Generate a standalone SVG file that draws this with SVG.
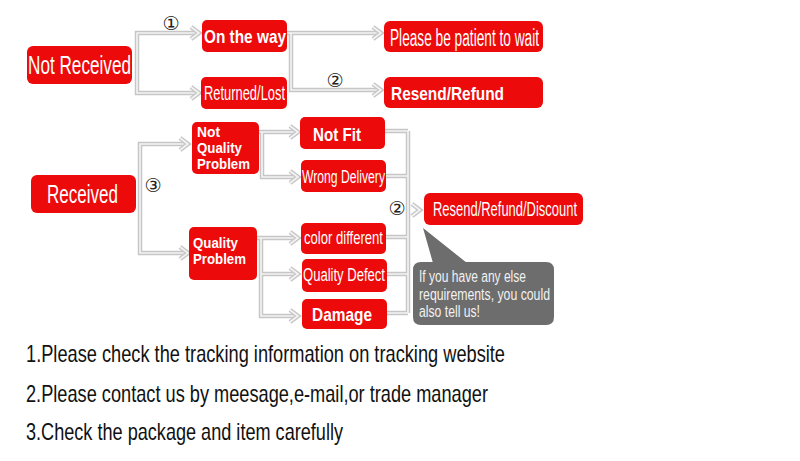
<svg xmlns="http://www.w3.org/2000/svg" xmlns:xlink="http://www.w3.org/1999/xlink" width="800" height="461" viewBox="0 0 800 461">
<style>
.box{fill:#ec0a0a}
.bt{fill:#fff;font-family:"Liberation Sans",Arial,sans-serif}
.b{font-weight:bold}
.co{fill:none;stroke:#c6c6c6;stroke-width:4.5;stroke-linejoin:miter}
.ci{fill:none;stroke:#f4f4f4;stroke-width:1.6;stroke-linejoin:miter}
.num{font-family:"DejaVu Sans","Noto Sans CJK SC",sans-serif;font-size:19px;fill:#222;text-anchor:middle}
.note{font-family:"Liberation Sans",Arial,sans-serif;font-size:24px;fill:#111}
.bub{fill:#f2f2f2;font-family:"Liberation Sans",Arial,sans-serif;font-size:16px}
</style>
<defs>
<g id="chev">
<path d="M-8,-6 L0,0 L-8,6" class="co"/>
<path d="M-8,-6 L0,0 L-8,6" class="ci"/>
</g>
</defs>
<rect width="800" height="461" fill="#fff"/>

<g id="connectors">
<g id="c1">
<path class="co" d="M196,33 H137 V93 H196"/>
<path class="ci" d="M196,33 H137 V93 H196"/>
<use xlink:href="#chev" x="199" y="33"/>
<use xlink:href="#chev" x="199" y="93"/>
</g>
<g id="c2">
<path class="co" d="M287,33 H378 M291,33 V90 H378"/>
<path class="ci" d="M287,33 H378 M291,33 V90 H378"/>
<use xlink:href="#chev" x="381" y="33"/>
<use xlink:href="#chev" x="381" y="90"/>
</g>
<g id="c3">
<path class="co" d="M185,144 H140 V253 H185"/>
<path class="ci" d="M185,144 H140 V253 H185"/>
<use xlink:href="#chev" x="188" y="144"/>
<use xlink:href="#chev" x="188" y="253"/>
</g>
<g id="c4">
<path class="co" d="M259,132 H295 M262,132 V177 H295"/>
<path class="ci" d="M259,132 H295 M262,132 V177 H295"/>
<use xlink:href="#chev" x="298" y="132"/>
<use xlink:href="#chev" x="298" y="177"/>
</g>
<g id="c5">
<path class="co" d="M257,238 H295 M261,238 V316 H295 M261,274 H295"/>
<path class="ci" d="M257,238 H295 M261,238 V316 H295 M261,274 H295"/>
<use xlink:href="#chev" x="298" y="238"/>
<use xlink:href="#chev" x="298" y="274"/>
<use xlink:href="#chev" x="298" y="316"/>
</g>
<g id="c6">
<path class="co" d="M385,131 H408 M386,176 H408 M386,237 H408 M387,274 H408 M387,313 H408 M408,131 V313"/>
<path class="ci" d="M385,131 H408 M386,176 H408 M386,237 H408 M387,274 H408 M387,313 H408 M408,131 V313"/>
<use xlink:href="#chev" x="420" y="210"/>
</g>
<text class="num" x="171" y="30">①</text>
<text class="num" x="335" y="87">②</text>
<text class="num" x="153" y="192">③</text>
<text class="num" x="397" y="215">②</text>
</g>

<g id="n-not-received">
<rect class="box" x="27" y="46" width="105" height="38" rx="6"/>
<text class="bt" x="28" y="74" font-size="25" textLength="103" lengthAdjust="spacingAndGlyphs">Not Received</text>
</g>
<g id="n-on-the-way">
<rect class="box" x="202" y="20" width="85" height="32" rx="5"/>
<text class="bt b" x="204" y="43" font-size="19" textLength="82" lengthAdjust="spacingAndGlyphs">On the way</text>
</g>
<g id="n-returned-lost">
<rect class="box" x="201" y="77" width="86" height="32" rx="5"/>
<text class="bt" x="204" y="100" font-size="21" textLength="81" lengthAdjust="spacingAndGlyphs">Returned/Lost</text>
</g>
<g id="n-patient">
<rect class="box" x="384" y="21" width="159" height="31" rx="6"/>
<text class="bt" x="390" y="46" font-size="23" textLength="149" lengthAdjust="spacingAndGlyphs">Please be patient to wait</text>
</g>
<g id="n-resend-refund">
<rect class="box" x="384" y="77" width="159" height="31" rx="6"/>
<text class="bt b" x="391" y="100" font-size="18" textLength="113" lengthAdjust="spacingAndGlyphs">Resend/Refund</text>
</g>
<g id="n-received">
<rect class="box" x="31" y="175" width="105" height="38" rx="6"/>
<text class="bt" x="47" y="203" font-size="25" textLength="71" lengthAdjust="spacingAndGlyphs">Received</text>
</g>
<g id="n-not-quality">
<rect class="box" x="192" y="122" width="67" height="52" rx="5"/>
<text class="bt b" x="197" y="137" font-size="15" textLength="23" lengthAdjust="spacingAndGlyphs">Not</text>
<text class="bt b" x="197" y="153" font-size="15" textLength="45" lengthAdjust="spacingAndGlyphs">Quality</text>
<text class="bt b" x="197" y="169" font-size="15" textLength="53" lengthAdjust="spacingAndGlyphs">Problem</text>
</g>
<g id="n-quality">
<rect class="box" x="189" y="227" width="68" height="53" rx="5"/>
<text class="bt b" x="193" y="248" font-size="15" textLength="45" lengthAdjust="spacingAndGlyphs">Quality</text>
<text class="bt b" x="193" y="264" font-size="15" textLength="53" lengthAdjust="spacingAndGlyphs">Problem</text>
</g>
<g id="n-not-fit">
<rect class="box" x="300" y="117" width="85" height="32" rx="5"/>
<text class="bt b" x="313" y="141" font-size="18" textLength="48" lengthAdjust="spacingAndGlyphs">Not Fit</text>
</g>
<g id="n-wrong-delivery">
<rect class="box" x="301" y="160" width="85" height="32" rx="5"/>
<text class="bt" x="302" y="183" font-size="18" textLength="83" lengthAdjust="spacingAndGlyphs">Wrong Delivery</text>
</g>
<g id="n-color-different">
<rect class="box" x="301" y="223" width="85" height="31" rx="5"/>
<text class="bt" x="304" y="244" font-size="19" textLength="79" lengthAdjust="spacingAndGlyphs">color different</text>
</g>
<g id="n-quality-defect">
<rect class="box" x="302" y="259" width="85" height="33" rx="5"/>
<text class="bt" x="303" y="281" font-size="18" textLength="82" lengthAdjust="spacingAndGlyphs">Quality Defect</text>
</g>
<g id="n-damage">
<rect class="box" x="302" y="299" width="85" height="30" rx="5"/>
<text class="bt b" x="312" y="321" font-size="19" textLength="60" lengthAdjust="spacingAndGlyphs">Damage</text>
</g>
<g id="n-resend-refund-discount">
<rect class="box" x="424" y="193" width="159" height="32" rx="6"/>
<text class="bt" x="433" y="216" font-size="20" textLength="144" lengthAdjust="spacingAndGlyphs">Resend/Refund/Discount</text>
</g>
<g id="n-callout">
<path fill="#6d6d6d" d="M421,262 H546 Q554,262 554,270 V317 Q554,325 546,325 H421 Q413,325 413,317 V270 Q413,262 421,262 Z M433,263 L423,228 L467,263 Z"/>
<text class="bub" x="419" y="282" textLength="107" lengthAdjust="spacingAndGlyphs">If you have any else</text>
<text class="bub" x="419" y="300" textLength="131" lengthAdjust="spacingAndGlyphs">requirements, you could</text>
<text class="bub" x="419" y="317" textLength="61" lengthAdjust="spacingAndGlyphs">also tell us!</text>
</g>

<g id="notes">
<text class="note" x="26" y="362" textLength="479" lengthAdjust="spacingAndGlyphs">1.Please check the tracking information on tracking website</text>
<text class="note" x="26" y="402" textLength="462" lengthAdjust="spacingAndGlyphs">2.Please contact us by meesage,e-mail,or trade manager</text>
<text class="note" x="26" y="440" textLength="317" lengthAdjust="spacingAndGlyphs">3.Check the package and item carefully</text>
</g>
</svg>
